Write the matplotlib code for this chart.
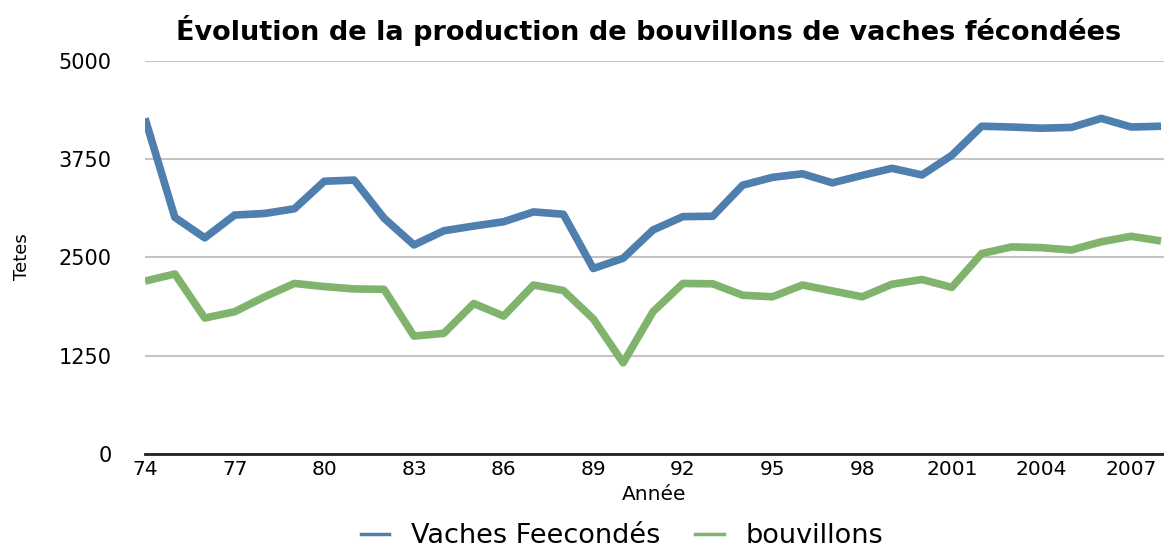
import numpy as np
import matplotlib.pyplot as plt
from matplotlib.lines import Line2D

plt.rcParams['font.family'] = ['DejaVu Sans']

# données
annees = ["74", "75", "76", "77", "78", "79", "80", "81", "82", "83", "84", "85",
          "86", "87", "88", "89", "90", "91", "92", "93", "94", "95", "96", "97",
          "98", "99", "2000", "2001", "2002", "2003", "2004", "2005", "2006",
          "2007", "2008"]
vaches = [4270, 3010, 2750, 3040, 3060, 3120, 3470, 3485, 3000, 2660, 2840, 2900,
          2955, 3080, 3050, 2360, 2490, 2850, 3020, 3025, 3420, 3520, 3565, 3450,
          3545, 3635, 3550, 3800, 4170, 4160, 4145, 4155, 4270, 4160, 4170]
bouvillons = [2200, 2290, 1730, 1810, 2000, 2170, 2130, 2100, 2095, 1500, 1535, 1915,
              1755, 2150, 2080, 1720, 1160, 1810, 2170, 2165, 2020, 2000, 2150, 2075,
              2000, 2160, 2220, 2120, 2550, 2635, 2625, 2595, 2700, 2770, 2710]
yticks = [0, 1250, 2500, 3750, 5000]

bleu = '#4e7fae'
vert = '#80b46d'

fig = plt.figure(figsize=(11.64, 5.52), dpi=100)
ax = fig.add_axes([145/1164, 98/552, 1019/1164, 393/552])

x = np.arange(len(annees))
ax.plot(x, vaches, color=bleu, lw=5.5, solid_joinstyle='round', solid_capstyle='butt')
ax.plot(x, bouvillons, color=vert, lw=5.5, solid_joinstyle='round', solid_capstyle='butt')

ax.set_xlim(0, 34.1)
ax.set_ylim(0, 5000)
ax.set_yticks(yticks)
ax.set_yticklabels([str(v) for v in yticks], fontsize=15)
ax.set_xticks(x[::3])
ax.set_xticklabels(annees[::3], fontsize=14.5)
ax.tick_params(axis='both', length=0)
ax.tick_params(axis='y', pad=24)
ax.tick_params(axis='x', pad=4)
ax.grid(axis='y', color='#c4c4c4', lw=1.5)
ax.set_axisbelow(True)
for s in ['top', 'right', 'left']:
    ax.spines[s].set_visible(False)
ax.spines['bottom'].set_color('#222222')
ax.spines['bottom'].set_linewidth(2)
ax.spines['bottom'].set_zorder(1)

ax.set_xlabel('Année', fontsize=14.5, labelpad=5)
fig.text(22/1164, 1 - 257/552, 'Tetes', rotation=90, fontsize=13, ha='center', va='center')
fig.text(649/1164, 1 - 30/552, 'Évolution de la production de bouvillons de vaches fécondées',
         fontsize=19.5, fontweight='bold', ha='center', va='center')

poignees = [Line2D([], [], color=bleu, lw=2.5), Line2D([], [], color=vert, lw=2.5)]
fig.legend(poignees, ['Vaches Feecondés', 'bouvillons'], loc='center',
           bbox_to_anchor=(622/1164, 1 - 536/552), ncol=2, frameon=False,
           fontsize=19.5, handlelength=1.05, columnspacing=1.3, handletextpad=0.8,
           borderpad=0.2)

fig.savefig('out.png', dpi=100)
